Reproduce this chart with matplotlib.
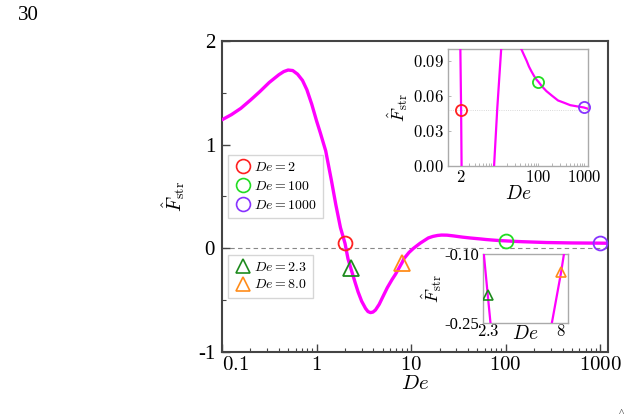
import matplotlib
matplotlib.use("Agg")
import matplotlib.pyplot as plt
from matplotlib.lines import Line2D
from matplotlib.ticker import FixedLocator, NullFormatter, LogLocator

plt.rcParams['mathtext.fontset'] = 'cm'
plt.rcParams['font.family'] = ['Liberation Serif', 'DejaVu Serif']

# Curve
de_curve = [0.1, 0.126, 0.158, 0.2, 0.25, 0.316, 0.4, 0.45, 0.5, 0.56, 0.63, 0.71,
            0.79, 0.89, 1.0, 1.1, 1.25, 1.44, 1.6, 1.79, 2.0, 2.15, 2.3, 2.58,
            2.75, 3.0, 3.3, 3.5, 3.72, 3.95, 4.2, 4.6, 4.95, 5.6, 6.3, 6.84,
            8.0, 8.4, 9.5, 10.6, 12.5, 15.2, 17, 19, 21, 24, 28, 35,
            42, 48, 55, 62, 70, 80, 90, 100, 120, 150, 200, 270,
            370, 500, 700, 1000, 1210]
f_curve = [1.24, 1.29, 1.35, 1.43, 1.51, 1.60, 1.675, 1.705, 1.72, 1.715, 1.68, 1.62,
           1.53, 1.39, 1.23, 1.11, 0.94, 0.65, 0.42, 0.20, 0.048, -0.10, -0.19, -0.34,
           -0.42, -0.51, -0.58, -0.61, -0.62, -0.615, -0.595, -0.54, -0.48, -0.38, -0.30, -0.25,
           -0.14, -0.10, -0.04, 0.0, 0.05, 0.10, 0.115, 0.124, 0.128, 0.127, 0.12, 0.108,
           0.10, 0.095, 0.09, 0.085, 0.081, 0.077, 0.074, 0.072, 0.068, 0.064, 0.06, 0.056,
           0.054, 0.052, 0.051, 0.05, 0.049]

circ_de = [2, 100, 1000]
circ_f = [0.048, 0.072, 0.05]
circ_colors = ['#ff2020', '#22dd22', '#8833ff']
circ_labels = ['$De = 2$', '$De = 100$', '$De = 1000$']

tri_de = [2.3, 8.0]
tri_f = [-0.19, -0.14]
tri_colors = ['#1e8b1e', '#ff8c1a']
tri_labels = ['$De = 2.3$', '$De = 8.0$']

main_xticks = [0.1, 1, 10, 100, 1000]
main_xticklabels = ['$0.1$', '$1$', '$10$', '$100$', '$1000$']
main_yticks = [-1, 0, 1, 2]
main_yticklabels = ['-1', '0', '1', '2']

in1_xticks = [2, 100, 1000]
in1_xticklabels = ['$2$', '$100$', '$1000$']
in1_yticks = [0.0, 0.03, 0.06, 0.09]
in1_yticklabels = ['$0.00$', '$0.03$', '$0.06$', '$0.09$']

in2_xticks = [2.3, 8]
in2_xticklabels = ['$2.3$', '$8$']
in2_yticks = [-0.25, -0.10]
in2_yticklabels = ['-0.25', '-0.10']

MAG = '#ff00ff'
W, H = 631, 419
fig = plt.figure(figsize=(W / 100, H / 100), dpi=100)

def rect(x0, y0, x1, y1):
    return [x0 / W, 1 - y1 / H, (x1 - x0) / W, (y1 - y0) / H]

ax = fig.add_axes(rect(222, 41, 608, 352))
ax.set_xscale('log')
ax.plot(de_curve, f_curve, color=MAG, lw=2.4, zorder=3, solid_capstyle='round',
        solid_joinstyle='round')
ax.axhline(0, color='#888888', lw=0.8, ls=(0, (4, 3)), zorder=1)
for x, y, c in zip(circ_de, circ_f, circ_colors):
    ax.plot([x], [y], 'o', mfc='none', mec=c, ms=10, mew=1.3, zorder=4)
for x, y, c in zip(tri_de, tri_f, tri_colors):
    ax.plot([x], [y], '^', mfc='none', mec=c, ms=11, mew=1.3, zorder=4)
ax.set_xlim(0.1, 1210)
ax.set_ylim(-1, 2)
ax.xaxis.set_major_locator(FixedLocator(main_xticks))
ax.set_xticklabels(main_xticklabels, fontsize=15)
ax.get_xticklabels()[0].set_horizontalalignment('left')
ax.xaxis.set_minor_locator(LogLocator(base=10, subs=range(2, 10)))
ax.xaxis.set_minor_formatter(NullFormatter())
ax.set_yticks(main_yticks)
ax.set_yticklabels(main_yticklabels, fontsize=15)
ax.set_yticks([-0.5, 0.5, 1.5], minor=True)
ax.tick_params(which='both', direction='in', color='#444444')
ax.tick_params(which='major', length=6, width=1.0)
ax.tick_params(axis='x', which='major', pad=3)
ax.tick_params(axis='y', which='major', pad=5)
ax.tick_params(which='minor', length=3, width=0.8)
for s in ax.spines.values():
    s.set_color('#444444')
    s.set_linewidth(1.5)
ax.set_xlabel('$De$', fontsize=15, labelpad=0)
ax.set_ylabel(r'$\hat{F}_{\rm str}$', fontsize=14, labelpad=8)

h1 = [Line2D([], [], marker='o', ls='none', mfc='none', mec=c, ms=10, mew=1.2) for c in circ_colors]
leg1 = ax.legend(h1, circ_labels, loc='upper left', bbox_to_anchor=(6 / 386, (352 - 155) / 311),
                 fontsize=10, frameon=True, fancybox=False, edgecolor='#cccccc',
                 handletextpad=0.15, borderpad=0.45, labelspacing=0.42, handlelength=1.3,
                 borderaxespad=0)
ax.add_artist(leg1)
h2 = [Line2D([], [], marker='^', ls='none', mfc='none', mec=c, ms=10, mew=1.2) for c in tri_colors]
ax.legend(h2, tri_labels, loc='upper left', bbox_to_anchor=(6 / 386, (352 - 255) / 311),
          fontsize=10, frameon=True, fancybox=False, edgecolor='#cccccc',
          handletextpad=0.15, borderpad=0.45, labelspacing=0.3, handlelength=1.3,
          borderaxespad=0)

# Inset 1
a1 = fig.add_axes(rect(448, 49, 588, 166))
a1.set_xscale('log')
a1.plot(de_curve, f_curve, color=MAG, lw=1.6, zorder=3)
a1.axhline(0.048, color='#cccccc', lw=0.6, ls=':', zorder=1)
for x, y, c in zip(circ_de, circ_f, circ_colors):
    a1.plot([x], [y], 'o', mfc='none', mec=c, ms=8, mew=1.3, zorder=4, clip_on=False)
a1.set_xlim(1.03, 1230)
a1.set_ylim(0, 0.1)
a1.xaxis.set_major_locator(FixedLocator(in1_xticks))
a1.set_xticklabels(in1_xticklabels, fontsize=12)
a1.xaxis.set_minor_locator(LogLocator(base=10, subs=range(2, 10)))
a1.xaxis.set_minor_formatter(NullFormatter())
a1.set_yticks(in1_yticks)
a1.set_yticklabels(in1_yticklabels, fontsize=12)
a1.tick_params(which='both', direction='in', color='#aaaaaa', length=2, width=0.6, pad=3)
for s in a1.spines.values():
    s.set_color('#aaaaaa')
    s.set_linewidth(1.0)
a1.set_xlabel('$De$', fontsize=14, labelpad=-1)
a1.set_ylabel(r'$\hat{F}_{\rm str}$', fontsize=13, labelpad=2)

# Inset 2
a2 = fig.add_axes(rect(483, 254, 568, 323))
a2.set_xscale('log')
a2.plot(de_curve, f_curve, color=MAG, lw=1.6, zorder=3)
for x, y, c in zip(tri_de, tri_f, tri_colors):
    a2.plot([x], [y], '^', mfc='none', mec=c, ms=7, mew=1.2, zorder=4)
a2.set_xlim(2.12, 9.0)
a2.set_ylim(-0.25, -0.10)
a2.xaxis.set_major_locator(FixedLocator(in2_xticks))
a2.set_xticklabels(in2_xticklabels, fontsize=12)
a2.xaxis.set_minor_locator(FixedLocator([]))
a2.set_yticks(in2_yticks)
a2.set_yticklabels(in2_yticklabels, fontsize=12)
a2.tick_params(which='both', direction='in', color='#aaaaaa', length=0)
a2.tick_params(axis='x', pad=1)
a2.tick_params(axis='y', pad=3)
for s in a2.spines.values():
    s.set_color('#aaaaaa')
    s.set_linewidth(1.0)
a2.text(0.5, -0.03, '$De$', transform=a2.transAxes, ha='center', va='top', fontsize=14)
a2.set_ylabel(r'$\hat{F}_{\rm str}$', fontsize=13, labelpad=0)

fig.text(18 / W, 1 - 15 / H, '30', fontsize=15, ha='left', va='center')
fig.text(621 / W, 1 - 413 / H, '^', fontsize=8, ha='center', va='center', color='#333333')

fig.savefig('out.png', dpi=100)
